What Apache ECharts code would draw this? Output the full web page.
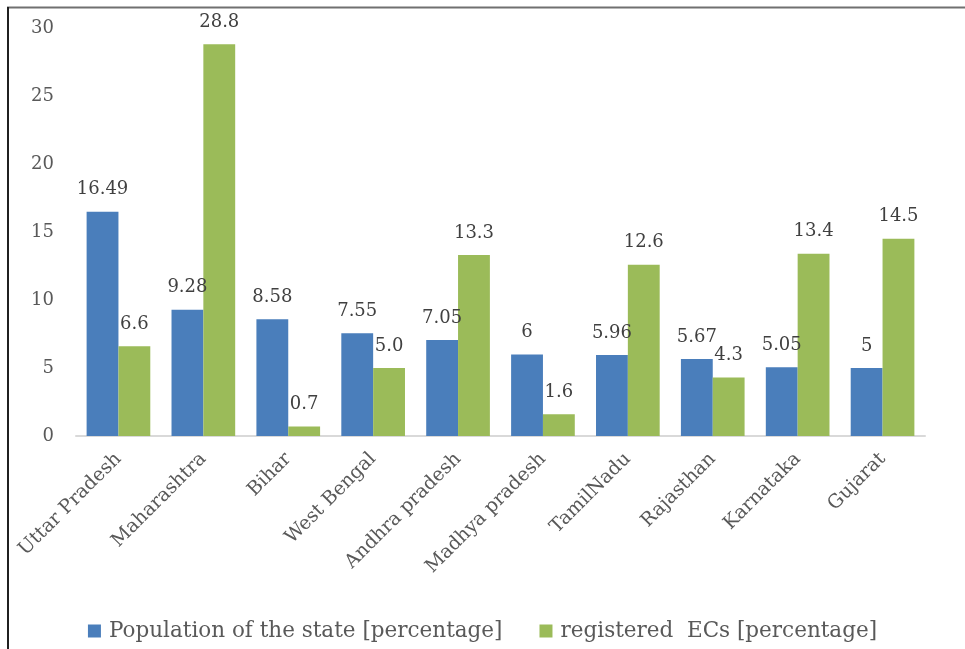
<!DOCTYPE html>
<html lang="en">
<head>
    <meta charset="UTF-8">
    <script type="text/javascript" src="https://cdn.jsdelivr.net/npm/echarts@6/dist/echarts.min.js"></script>
    <style>
        html, body { margin: 0; padding: 0; background: #fff; }
        #chart { width: 965px; height: 649px; }
    </style>
</head>
<body>
<div id="chart"></div>
<script type="text/javascript">
    var states = ['Uttar Pradesh', 'Maharashtra', 'Bihar', 'West Bengal', 'Andhra pradesh',
        'Madhya pradesh', 'TamilNadu', 'Rajasthan', 'Karnataka', 'Gujarat'];
    var population = [16.49, 9.28, 8.58, 7.55, 7.05, 6, 5.96, 5.67, 5.05, 5];
    var registeredECs = [6.6, 28.8, 0.7, 5.0, 13.3, 1.6, 12.6, 4.3, 13.4, 14.5];
    var yTicks = [0, 5, 10, 15, 20, 25, 30];

    var font = '"DejaVu Serif", serif';
    var chart = echarts.init(document.getElementById('chart'));
    chart.setOption({
        animation: false,
        textStyle: { fontFamily: font },
        graphic: [
            { type: 'line', shape: { x1: 7, y1: 7.5, x2: 965, y2: 7.5 }, style: { stroke: '#707070', lineWidth: 2 } },
            { type: 'line', shape: { x1: 8, y1: 7, x2: 8, y2: 649 }, style: { stroke: '#202020', lineWidth: 2 } }
        ],
        grid: { left: 76, right: 40, top: 28, bottom: 213, containLabel: false },
        legend: {
            bottom: 2,
            left: 'center',
            itemWidth: 13,
            itemHeight: 13,
            itemGap: 37,
            icon: 'rect',
            textStyle: { fontFamily: font, fontSize: 21.5, color: '#595959', padding: [0, 0, 0, 3] },
            data: ['Population of the state [percentage]', 'registered  ECs [percentage]']
        },
        xAxis: {
            type: 'category',
            data: states,
            axisLine: { lineStyle: { color: '#d9d9d9', width: 2 } },
            axisTick: { show: false },
            axisLabel: { rotate: 45, margin: 20, fontSize: 19, color: '#595959', fontFamily: font, interval: 0 }
        },
        yAxis: {
            type: 'value',
            min: yTicks[0],
            max: yTicks[yTicks.length - 1],
            interval: 5,
            splitLine: { show: false },
            axisLine: { show: false },
            axisTick: { show: false },
            axisLabel: { margin: 22, fontSize: 18, color: '#595959', fontFamily: font }
        },
        series: [
            {
                name: 'Population of the state [percentage]',
                type: 'bar',
                data: population,
                barGap: '0%',
                barCategoryGap: '25%',
                itemStyle: { color: '#4a7ebb' },
                label: { show: true, position: 'top', distance: 13, fontSize: 18, color: '#404040', fontFamily: font }
            },
            {
                name: 'registered  ECs [percentage]',
                type: 'bar',
                data: registeredECs,
                itemStyle: { color: '#9bbb59' },
                label: {
                    show: true, position: 'top', distance: 13, fontSize: 18, color: '#404040', fontFamily: font,
                    formatter: function (p) { return p.value.toFixed(1); }
                }
            }
        ]
    });
</script>
</body>
</html>
